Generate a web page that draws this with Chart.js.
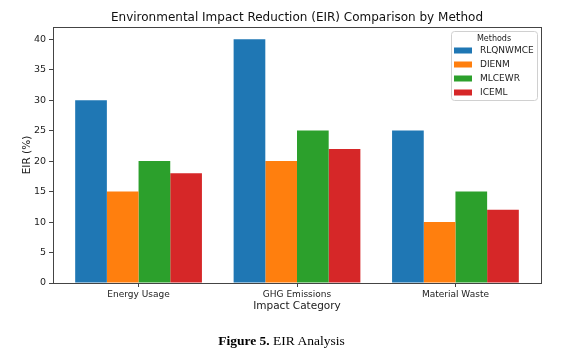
<!DOCTYPE html>
<html>
<head>
<meta charset="utf-8">
<script src="https://cdn.jsdelivr.net/npm/chart.js@4"></script>
<style>
  html, body { margin: 0; padding: 0; background: #fff; }
  #wrap { position: relative; width: 587px; height: 361px; }
  #caption {
    position: absolute; left: 0; width: 563px; top: 333px;
    text-align: center; font-family: "Liberation Serif", serif; font-size: 13.5px; color: #000;
  }
</style>
</head>
<body>
<div id="wrap">
  <canvas id="chart" width="587" height="361"></canvas>
  <div id="caption"><b>Figure 5.</b> EIR Analysis</div>
</div>
<script>
const categories = ["Energy Usage", "GHG Emissions", "Material Waste"];
const methods = ["RLQNWMCE", "DIENM", "MLCEWR", "ICEML"];
const rlqnwmce = [30, 40, 25];
const dienm = [15, 20, 10];
const mlcewr = [20, 25, 15];
const iceml = [18, 22, 12];
const yTicks = [0, 5, 10, 15, 20, 25, 30, 35, 40];
const colors = ["#1f77b4", "#ff7f0e", "#2ca02c", "#d62728"];

const font = "DejaVu Sans";
const seriesValues = [rlqnwmce, dienm, mlcewr, iceml];

const datasets = methods.map(function (name, i) {
  return {
    label: name,
    data: seriesValues[i].map(function (v, j) { return { x: j, y: v }; }),
    backgroundColor: colors[i],
    borderWidth: 0,
    categoryPercentage: 0.8,
    barPercentage: 1.0
  };
});

// top and right spines
const frame = {
  id: "frame",
  afterDraw(chart) {
    const a = chart.chartArea, ctx = chart.ctx;
    ctx.save();
    ctx.strokeStyle = "#444";
    ctx.lineWidth = 1;
    ctx.strokeRect(a.left + 0.5, a.top + 0.5, a.right - a.left, a.bottom - a.top);
    ctx.restore();
  }
};

// matplotlib style legend in the upper right
const boxLegend = {
  id: "boxLegend",
  afterDraw(chart) {
    const a = chart.chartArea, ctx = chart.ctx;
    const w = 86, h = 69;
    const x = a.right - 4 - w, y = a.top + 4;
    ctx.save();
    ctx.beginPath();
    ctx.roundRect(x + 0.5, y + 0.5, w, h, 3);
    ctx.fillStyle = "rgba(255,255,255,0.8)";
    ctx.fill();
    ctx.strokeStyle = "#d0d0d0";
    ctx.stroke();
    ctx.fillStyle = "#222";
    ctx.textBaseline = "middle";
    ctx.textAlign = "center";
    ctx.font = "8px '" + font + "'";
    ctx.fillText("Methods", x + w / 2, y + 8);
    ctx.textAlign = "left";
    ctx.font = "9px '" + font + "'";
    chart.data.datasets.forEach(function (ds, i) {
      const cy = y + 19.5 + i * 14;
      ctx.fillStyle = ds.backgroundColor;
      ctx.fillRect(x + 3, cy - 3, 18, 6);
      ctx.fillStyle = "#222";
      ctx.fillText(ds.label, x + 29, cy + 0.5);
    });
    ctx.restore();
  }
};

new Chart(document.getElementById("chart"), {
  type: "bar",
  data: { datasets: datasets },
  options: {
    responsive: false,
    animation: false,
    layout: { padding: { left: 0, right: 46, top: 0, bottom: 48 } },
    plugins: {
      legend: { display: false },
      tooltip: { enabled: false },
      title: {
        display: true,
        fullSize: false,
        text: "Environmental Impact Reduction (EIR) Comparison by Method",
        color: "#111",
        font: { family: font, size: 12, weight: "normal" },
        padding: { top: 10.8, bottom: 1.8 }
      }
    },
    scales: {
      x: {
        type: "linear",
        min: -0.54,
        max: 2.54,
        offset: false,
        afterBuildTicks(axis) {
          axis.ticks = categories.map(function (c, i) { return { value: i }; });
        },
        afterFit(axis) { axis.height = 30; },
        ticks: {
          color: "#222",
          font: { family: font, size: 9 },
          padding: 2,
          maxRotation: 0,
          callback: function (v) { return categories[v]; }
        },
        grid: { display: true, drawOnChartArea: false, offset: false, tickLength: 4, color: "#444" },
        border: { display: true, color: "#444" },
        title: {
          display: true,
          text: "Impact Category",
          color: "#222",
          font: { family: font, size: 10.5 },
          padding: { top: 0, bottom: 0 }
        }
      },
      y: {
        min: 0,
        max: 42,
        afterBuildTicks(axis) {
          axis.ticks = yTicks.map(function (v) { return { value: v }; });
        },
        afterFit(axis) { axis.width = 53; },
        ticks: { color: "#222", font: { family: font, size: 9.5 }, padding: 3 },
        grid: { display: true, drawOnChartArea: false, tickLength: 4, color: "#444" },
        border: { display: true, color: "#444" },
        title: {
          display: true,
          text: "EIR (%)",
          color: "#222",
          font: { family: font, size: 10.5 },
          padding: { top: 20.7, bottom: 0 }
        }
      }
    }
  },
  plugins: [frame, boxLegend]
});
</script>
</body>
</html>
